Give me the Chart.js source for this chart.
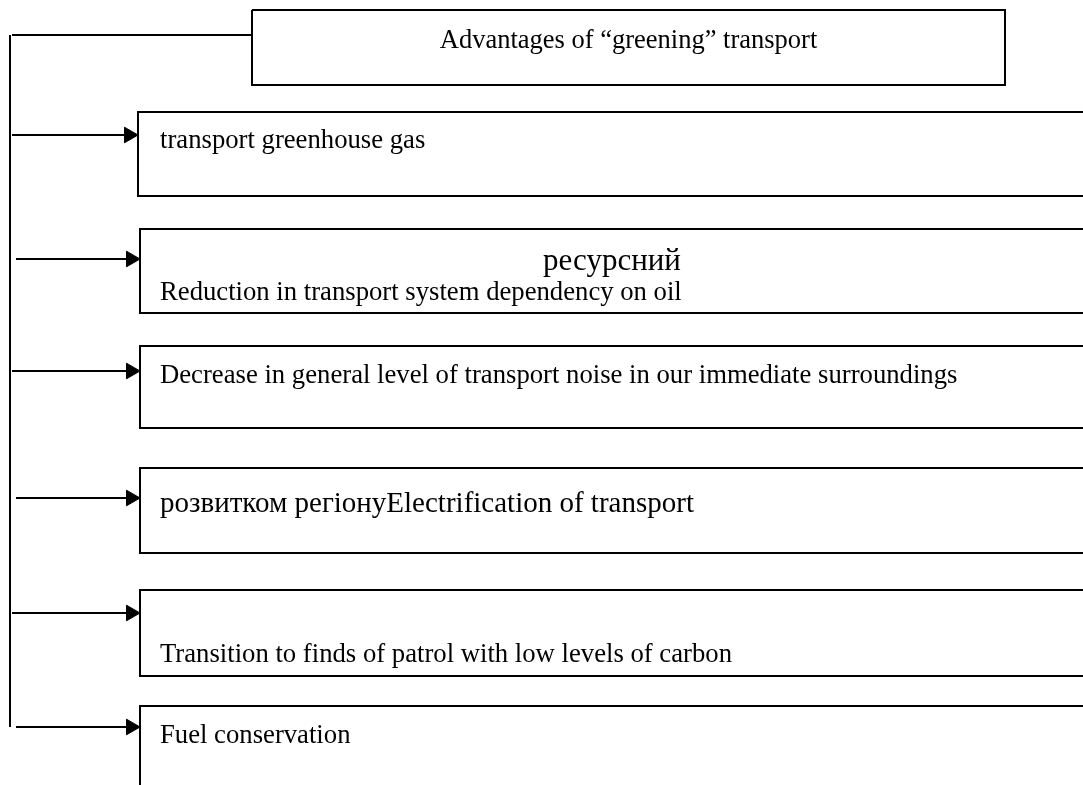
<!DOCTYPE html>
<html>
<head>
<meta charset="utf-8">
<script src="https://cdn.jsdelivr.net/npm/chart.js@4/dist/chart.umd.min.js"></script>
<style>
  html, body { margin: 0; padding: 0; background: #fff; }
  #wrap { width: 1083px; height: 785px; position: relative; }
</style>
</head>
<body>
<div id="wrap"><canvas id="chart"></canvas></div>
<script>
// Schema: vantaggi della "ecologizzazione" dei trasporti
// Valori (unita' = pixel del riferimento)

const titleText = 'Advantages of \u201cgreening\u201d transport';
const titleBox = [252, 10, 1005, 85]; // sinistra, alto, destra, basso

const boxLabels = [
  ['transport greenhouse gas'],
  ['ресурсний', 'Reduction in transport system dependency on oil'],
  ['Decrease in general level of transport noise in our immediate surroundings'],
  ['розвитком регіону', 'Electrification of transport'],
  ['Transition to finds of patrol with low levels of carbon'],
  ['Fuel conservation']
];
const boxLeft   = [138, 140, 140, 140, 140, 140];
const boxTop    = [112, 229, 346, 468, 590, 706];
const boxBottom = [196, 313, 428, 553, 676, null]; // l'ultimo riquadro e' aperto in basso
const arrowY     = [135, 259, 371, 498, 613, 727];
const arrowStart = [12, 16, 12, 16, 12, 16];

// linea di raccordo dal titolo
const spineX = 10;
const spineTop = 35;
const spineBottom = 727;

const RIGHT = 1092; // i riquadri escono dal bordo destro
const LINE = '#000';
const SERIF = '"Liberation Serif", "Times New Roman", serif';
const HEAD = 9; // raggio della punta di freccia

// dataset: contorni, frecce, raccordo
const datasets = [];

function polyline(points, extra) {
  datasets.push(Object.assign({
    data: points,
    showLine: true,
    borderColor: LINE,
    borderWidth: 2,
    pointRadius: 0,
    tension: 0,
    fill: false
  }, extra || {}));
}

// riquadro del titolo
polyline([
  {x: titleBox[0], y: titleBox[1]}, {x: titleBox[2], y: titleBox[1]},
  {x: titleBox[2], y: titleBox[3]}, {x: titleBox[0], y: titleBox[3]},
  {x: titleBox[0], y: titleBox[1]}
]);
// raccordo orizzontale e verticale
polyline([{x: 12, y: spineTop}, {x: titleBox[0], y: spineTop}]);
polyline([{x: spineX, y: spineTop}, {x: spineX, y: spineBottom}]);

boxLabels.forEach((_, i) => {
  const l = boxLeft[i], t = boxTop[i], b = boxBottom[i];
  if (b === null) {
    polyline([{x: RIGHT, y: t}, {x: l, y: t}, {x: l, y: 800}]);
  } else {
    polyline([{x: RIGHT, y: t}, {x: l, y: t}, {x: l, y: b}, {x: RIGHT, y: b}]);
  }
  // freccia
  polyline([{x: arrowStart[i], y: arrowY[i]}, {x: l - HEAD, y: arrowY[i]}], {
    pointStyle: 'triangle',
    rotation: 90,
    pointRadius: [0, HEAD],
    pointBackgroundColor: LINE,
    pointBorderColor: LINE,
    pointBorderWidth: 1
  });
});

// testi dentro i riquadri
const textPlugin = {
  id: 'boxText',
  afterDatasetsDraw(chart) {
    const ctx = chart.ctx;
    const x = chart.scales.x, y = chart.scales.y;
    ctx.save();
    ctx.fillStyle = '#000';
    ctx.textBaseline = 'alphabetic';

    ctx.font = '26.5px ' + SERIF;
    ctx.textAlign = 'center';
    ctx.fillText(titleText, x.getPixelForValue((titleBox[0] + titleBox[2]) / 2), y.getPixelForValue(48));

    ctx.textAlign = 'left';
    const tx = x.getPixelForValue(160);
    const base = [148, 300, 383, 512, 662, 743];

    // 0, 2, 4, 5: una riga semplice
    [0, 2, 4, 5].forEach(i => {
      ctx.font = '26.7px ' + SERIF;
      ctx.fillText(boxLabels[i][0], tx, y.getPixelForValue(base[i]));
    });

    // 1: parola cirillica centrata sopra la riga inglese
    ctx.font = '31px ' + SERIF;
    ctx.textAlign = 'center';
    ctx.fillText(boxLabels[1][0], x.getPixelForValue(612), y.getPixelForValue(270));
    ctx.textAlign = 'left';
    ctx.font = '26.7px ' + SERIF;
    ctx.fillText(boxLabels[1][1], tx, y.getPixelForValue(base[1]));

    // 3: due parti sulla stessa riga, stessa misura
    ctx.font = '29px ' + SERIF;
    ctx.fillText(boxLabels[3][0], tx, y.getPixelForValue(base[3]));
    const w = ctx.measureText(boxLabels[3][0]).width;
    ctx.fillText(boxLabels[3][1], tx + w, y.getPixelForValue(base[3]));

    ctx.restore();
  }
};

new Chart(document.getElementById('chart'), {
  type: 'scatter',
  data: { datasets: datasets },
  options: {
    responsive: true,
    maintainAspectRatio: false,
    animation: false,
    events: [],
    layout: { padding: 0, autoPadding: false },
    plugins: { legend: { display: false }, tooltip: { enabled: false } },
    scales: {
      x: { type: 'linear', min: 0, max: 1083, display: false },
      y: { type: 'linear', min: 0, max: 785, reverse: true, display: false }
    }
  },
  plugins: [textPlugin]
});
</script>
</body>
</html>
